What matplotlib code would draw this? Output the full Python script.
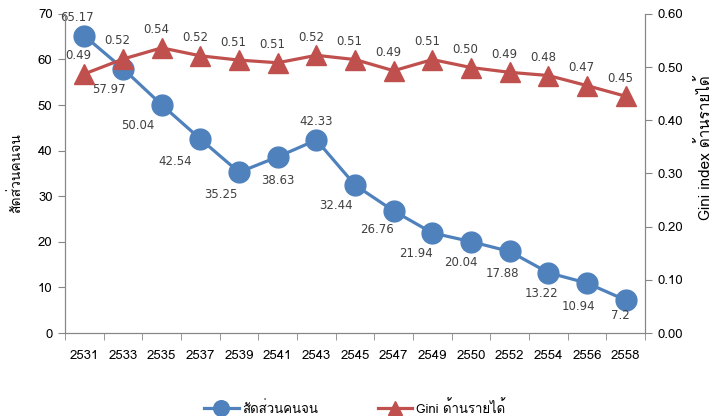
"""Poverty ratio vs. Gini index (Thailand, B.E. 2531-2558)."""
import matplotlib
matplotlib.use("Agg")
import matplotlib.pyplot as plt
from matplotlib import font_manager
from matplotlib.ft2font import FT2Font

years = ["2531", "2533", "2535", "2537", "2539", "2541", "2543", "2545",
         "2547", "2549", "2550", "2552", "2554", "2556", "2558"]
poverty = [65.17, 57.97, 50.04, 42.54, 35.25, 38.63, 42.33, 32.44,
           26.76, 21.94, 20.04, 17.88, 13.22, 10.94, 7.2]
gini = [0.487, 0.515, 0.536, 0.521, 0.513, 0.508, 0.522, 0.514,
        0.493, 0.514, 0.499, 0.490, 0.484, 0.465, 0.445]
gini_labels = ["0.49", "0.52", "0.54", "0.52", "0.51", "0.51", "0.52", "0.51",
               "0.49", "0.51", "0.50", "0.49", "0.48", "0.47", "0.45"]

BLUE = "#4F81BD"
RED = "#C0504D"
GREY = "#868686"


def find_thai_font():
    # pick any installed font that actually has Thai glyphs
    for f in font_manager.fontManager.ttflist:
        try:
            if ord("ส") in FT2Font(f.fname).get_charmap():
                return f.name
        except Exception:
            continue
    return None


thai = find_thai_font()
families = [thai, "DejaVu Sans"] if thai else ["DejaVu Sans"]
plt.rcParams["font.family"] = families

fig = plt.figure(figsize=(7.24, 4.16), dpi=100)
ax = fig.add_axes([0.0898, 0.1995, 0.8012, 0.7673])
ax2 = ax.twinx()

x = list(range(len(years)))
ax.plot(x, poverty, color=BLUE, lw=2.3, marker="o", ms=15, zorder=3,
        label="สัดส่วนคนจน")
ax2.plot(x, gini, color=RED, lw=2.3, marker="^", ms=14, zorder=3,
         label="Gini ด้านรายได้")

# label offsets (points) for poverty values
blue_off = [(-5, 13), (-10, -15), (-17, -15), (-18, -16), (-13, -16),
            (0, -17), (0, 13), (-14, -15), (-12, -13), (-12, -15),
            (-7, -15), (-5, -16), (-5, -15), (-6, -17), (-4, -11)]
for xi, v, off in zip(x, poverty, blue_off):
    ax.annotate(f"{v:g}", (xi, v), xytext=off, textcoords="offset points",
                ha="center", va="center", fontsize=8.5, color="#404040",
                family=["DejaVu Sans"])
for xi, v, lab in zip(x, gini, gini_labels):
    ax2.annotate(lab, (xi, v), xytext=(-4, 13), textcoords="offset points",
                 ha="center", va="center", fontsize=8.5, color="#404040",
                 family=["DejaVu Sans"])

ax.set_xlim(-0.5, len(years) - 0.5)
ax.set_ylim(0, 70)
ax2.set_ylim(0, 0.6)
ax.set_yticks(range(0, 71, 10))
ax2.set_yticks([i / 10 for i in range(7)])
ax2.set_yticklabels([f"{i / 10:.2f}" for i in range(7)])
ax.set_xticks(x)
ax.set_xticklabels(years)
ax.set_xticks([i + 0.5 for i in range(-1, len(years))], minor=True)
ax.tick_params(axis="x", which="major", length=0, pad=12, labelsize=9.5)
ax.tick_params(axis="x", which="minor", length=5, color=GREY)
ax.tick_params(axis="y", length=5, color=GREY, labelsize=9.5, pad=4)
ax2.tick_params(axis="y", length=5, color=GREY, labelsize=9.5, pad=4)

for a in (ax, ax2):
    for side in ("left", "right", "bottom"):
        a.spines[side].set_color(GREY)
    a.spines["top"].set_visible(False)

ax.set_ylabel("สัดส่วนคนจน", fontsize=10)
ax.yaxis.set_label_coords(-0.072, 0.5)
ax2.set_ylabel("Gini index ด้านรายได้", fontsize=11)
ax2.yaxis.set_label_coords(1.088, 0.58)

h1, l1 = ax.get_legend_handles_labels()
h2, l2 = ax2.get_legend_handles_labels()
fig.legend(h1 + h2, l1 + l2, loc="center", bbox_to_anchor=(0.49, 0.02),
           ncol=2, frameon=False, fontsize=9.5, markerscale=0.75,
           handlelength=2.6, handletextpad=0.3, columnspacing=4.5)

fig.savefig("out.png", dpi=100)
